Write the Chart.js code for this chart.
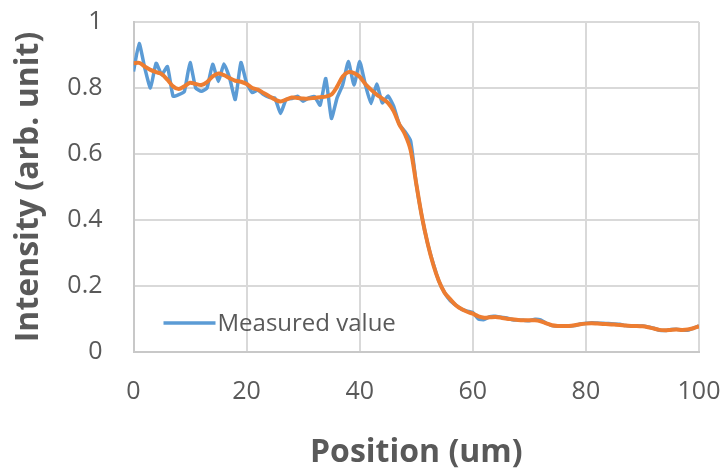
<!DOCTYPE html>
<html>
<head>
<meta charset="utf-8">
<script src="https://cdn.jsdelivr.net/npm/chart.js@4/dist/chart.umd.min.js"></script>
<style>
  html, body { margin: 0; padding: 0; background: #ffffff; }
  #wrap { width: 725px; height: 472px; position: relative; }
</style>
</head>
<body>
<div id="wrap"><canvas id="c" width="725" height="472"></canvas></div>
<script>
// Position (um)
const positions = [0,1,2,3,4,5,6,7,8,9,10,11,12,13,14,15,16,17,18,19,20,21,22,23,24,25,26,27,28,29,30,31,32,33,34,35,36,37,38,39,40,41,42,43,44,45,46,47,48,49,50,51,52,53,54,55,56,57,58,59,60,61,62,63,64,65,66,67,68,69,70,71,72,73,74,75,76,77,78,79,80,81,82,83,84,85,86,87,88,89,90,91,92,93,94,95,96,97,98,99,100];

// Measured value (blue)
const measured = [0.85,0.935,0.86,0.80,0.875,0.84,0.865,0.775,0.78,0.79,0.877,0.80,0.79,0.80,0.872,0.82,0.873,0.83,0.765,0.877,0.815,0.786,0.794,0.78,0.772,0.77,0.723,0.766,0.768,0.775,0.76,0.77,0.774,0.748,0.829,0.708,0.77,0.81,0.88,0.809,0.88,0.81,0.753,0.812,0.755,0.776,0.745,0.69,0.668,0.64,0.51,0.41,0.33,0.268,0.215,0.18,0.156,0.142,0.13,0.124,0.12,0.10,0.098,0.107,0.108,0.105,0.103,0.098,0.097,0.096,0.095,0.099,0.097,0.087,0.08,0.079,0.078,0.079,0.08,0.085,0.087,0.089,0.088,0.087,0.086,0.085,0.084,0.08,0.079,0.079,0.079,0.076,0.072,0.066,0.065,0.068,0.069,0.067,0.066,0.072,0.079];

// Smoothed curve (orange)
const smoothed = [0.875,0.876,0.865,0.855,0.848,0.842,0.825,0.805,0.797,0.805,0.816,0.812,0.809,0.818,0.835,0.844,0.839,0.83,0.822,0.819,0.812,0.80,0.795,0.785,0.775,0.765,0.759,0.765,0.771,0.77,0.768,0.768,0.77,0.772,0.774,0.78,0.804,0.835,0.848,0.845,0.834,0.812,0.795,0.78,0.768,0.755,0.73,0.69,0.66,0.612,0.51,0.41,0.33,0.265,0.215,0.18,0.16,0.142,0.13,0.122,0.116,0.108,0.104,0.105,0.106,0.104,0.101,0.099,0.097,0.096,0.096,0.096,0.093,0.087,0.081,0.079,0.079,0.079,0.081,0.084,0.086,0.087,0.086,0.085,0.084,0.083,0.082,0.08,0.079,0.079,0.078,0.075,0.071,0.067,0.066,0.067,0.068,0.067,0.068,0.072,0.078];

const xTicks = [0, 20, 40, 60, 80, 100];
const yTicks = [0, 0.2, 0.4, 0.6, 0.8, 1];
const xTitle = 'Position (um)';
const yTitle = 'Intensity (arb. unit)';
const legendLabel = 'Measured value';

const FONT = "'Open Sans', 'Noto Sans', sans-serif";
const TEXT = '#595959';
const GRID = '#d9d9d9';
const BLUE = '#5b9bd5';
const ORANGE = '#ed7d31';

const toPts = (ys) => positions.map((x, i) => ({ x: x, y: ys[i] }));

const insideLegend = {
  id: 'insideLegend',
  afterDatasetsDraw(chart) {
    const { ctx, chartArea } = chart;
    const y = chartArea.bottom - 29;
    const x0 = chartArea.left + 30;
    ctx.save();
    ctx.strokeStyle = BLUE;
    ctx.lineWidth = 3.5;
    ctx.beginPath();
    ctx.moveTo(x0, y);
    ctx.lineTo(x0 + 52, y);
    ctx.stroke();
    ctx.fillStyle = TEXT;
    ctx.font = "24px " + FONT;
    ctx.textBaseline = 'middle';
    ctx.textAlign = 'left';
    ctx.fillText(legendLabel, x0 + 54, y + 1);
    ctx.restore();
  }
};

new Chart(document.getElementById('c'), {
  type: 'line',
  data: {
    datasets: [
      {
        label: 'Smoothed',
        data: toPts(smoothed),
        borderColor: ORANGE,
        borderWidth: 4,
        pointRadius: 0,
        tension: 0.3,
        order: 0
      },
      {
        label: legendLabel,
        data: toPts(measured),
        borderColor: BLUE,
        borderWidth: 3.5,
        pointRadius: 0,
        tension: 0.15,
        order: 1
      }
    ]
  },
  options: {
    responsive: false,
    animation: false,
    layout: { padding: { left: 0, right: 26, top: 22, bottom: 0 } },
    plugins: {
      legend: { display: false },
      tooltip: { enabled: false }
    },
    scales: {
      x: {
        type: 'linear',
        min: 0,
        max: 100,
        afterBuildTicks(scale) { scale.ticks = xTicks.map(v => ({ value: v })); },
        afterFit(scale) { scale.height = 120; scale.paddingLeft = 0; scale.paddingRight = 0; },
        grid: { color: GRID, lineWidth: 2, drawTicks: false },
        border: { color: '#c8c8c8', width: 2 },
        ticks: {
          color: TEXT,
          font: { family: FONT, size: 25 },
          padding: 25,
          maxRotation: 0,
          callback: (v) => String(v)
        },
        title: {
          display: true,
          text: xTitle,
          color: TEXT,
          font: { family: FONT, size: 32, weight: 'bold' },
          padding: { top: 0, bottom: 0 }
        }
      },
      y: {
        type: 'linear',
        min: 0,
        max: 1,
        afterBuildTicks(scale) { scale.ticks = yTicks.map(v => ({ value: v })); },
        afterFit(scale) { scale.width = 133.5; scale.paddingTop = 0; scale.paddingBottom = 0; },
        grid: { color: GRID, lineWidth: 2, drawTicks: false },
        border: { color: '#c8c8c8', width: 2 },
        ticks: {
          color: TEXT,
          font: { family: FONT, size: 25 },
          padding: 31,
          callback: (v) => String(Number(v.toFixed(1)))
        },
        title: {
          display: true,
          text: yTitle,
          color: TEXT,
          font: { family: FONT, size: 32, weight: 'bold' },
          padding: { top: 10, bottom: 0 }
        }
      }
    }
  },
  plugins: [insideLegend]
});
</script>
</body>
</html>
